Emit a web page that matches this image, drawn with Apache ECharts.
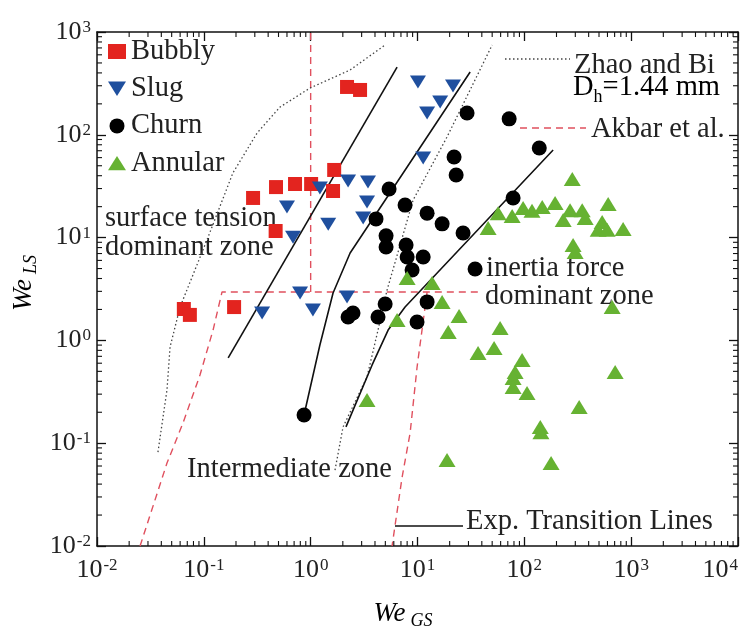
<!DOCTYPE html>
<html>
<head>
<meta charset="utf-8">
<script src="https://cdn.jsdelivr.net/npm/echarts@6/dist/echarts.min.js"></script>
<style>
  html, body { margin: 0; padding: 0; background: #fff; }
  #chart { width: 753px; height: 632px; }
</style>
</head>
<body>
<div id="chart"></div>
<script>
// Flow-pattern map: liquid vs. gas superficial Weber numbers (log–log)

// Bubbly flow
const bubblyWeGS = [0.065, 0.074, 0.192, 0.289, 0.474, 0.714, 1.01, 1.66, 1.62, 0.47, 2.19, 2.9];
const bubblyWeLS = [2.02, 1.77, 2.11, 24.3, 31, 33.2, 33.2, 45.5, 28.4, 11.6, 292, 273];

// Slug flow
const slugWeGS = [0.60, 0.684, 1.22, 1.46, 2.24, 3.44, 3.37, 3.1, 0.796, 1.05, 2.19, 0.351, 10.1, 21.5, 16.3, 12.3, 11.3];
const slugWeLS = [19.9, 10.1, 30.3, 13.5, 35.6, 34.8, 22.2, 15.5, 2.89, 1.98, 2.64, 1.85, 327, 298, 208, 163, 59.4];

// Churn flow
const churnWeGS = [5.42, 7.65, 4.09, 12.3, 17.0, 26.7, 5.08, 5.08, 7.82, 8.0, 11.3, 8.9, 4.98, 12.3, 2.49, 2.24, 4.27, 9.9, 29.1, 72.1, 138, 22.0, 23.0, 78.5, 34.6, 0.867];
const churnWeLS = [29.7, 20.7, 15.2, 17.3, 13.6, 11.1, 10.4, 8.1, 8.47, 6.47, 6.47, 4.84, 2.26, 2.37, 1.85, 1.69, 1.69, 1.51, 163, 143, 74.5, 60.8, 40.6, 24.3, 4.95, 0.188];

// Annular flow
const annularWeGS = [281, 194, 609, 147, 118, 97.4, 76.9, 56.9, 45.8, 268, 348, 231, 371, 535, 491, 596, 841, 286, 299, 8.0, 13.7, 17.0, 24.5, 19.4, 59.3, 36.9, 52.1, 95.3, 82, 78.5, 78.5, 106, 141, 143, 326, 178, 18.9, 3.37, 6.44, 664, 708];
const annularWeLS = [37.2, 21.7, 21.2, 19.9, 18.2, 19.4, 16.2, 17.3, 12.4, 18.5, 18.5, 14.8, 15.5, 14.2, 11.9, 11.9, 12.1, 8.47, 7.24, 4.05, 3.61, 2.37, 1.73, 1.21, 1.32, 0.753, 0.843, 0.644, 0.493, 0.431, 0.352, 0.308, 0.144, 0.128, 0.225, 0.064, 0.0687, 0.263, 1.58, 2.11, 0.493];

// Experimental transition lines
const exp1WeGS = [0.169, 6.44];
const exp1WeLS = [0.675, 456];
const exp2WeGS = [0.867, 1.22, 1.62, 2.34, 31.1];
const exp2WeLS = [0.188, 0.902, 2.89, 7.08, 408];
const exp3WeGS = [2.14, 3.76, 5.31, 7.65, 186];
const exp3WeLS = [0.144, 0.577, 1.26, 2.11, 71.1];

// Zhao and Bi (Dh = 1.44 mm) transitions
const zhaoLeftWeGS = [0.0372, 0.0452, 0.0483, 0.0599, 0.107, 0.187, 0.315, 0.516, 0.986, 2.34, 4.98];
const zhaoLeftWeLS = [0.082, 0.33, 0.863, 2.11, 9.48, 42.5, 104, 186, 285, 427, 748];
const zhaoRightWeGS = [1.69, 2.01, 3.37, 4.27, 5.19, 9.1, 18.9, 50.0];
const zhaoRightWeLS = [0.0548, 0.144, 0.441, 1.26, 3.09, 23.2, 95.3, 748];

// Akbar et al. zone boundaries
const akbarLeftWeGS = [0.0253, 0.0452, 0.0638, 0.092, 0.122, 0.148, 40];
const akbarLeftWeLS = [0.01, 0.0641, 0.157, 0.46, 1.26, 2.96, 2.96];
const akbarVertWeGS = [1, 1];
const akbarVertWeLS = [2.96, 1000];
const akbarRightWeGS = [12.3, 9.91, 8.53, 7.18, 5.78];
const akbarRightWeLS = [2.96, 0.551, 0.126, 0.0469, 0.01];

// Axis ranges (decades)
const xDecades = [-2, -1, 0, 1, 2, 3, 4];
const yDecades = [-2, -1, 0, 1, 2, 3];

const SERIF = "'Liberation Serif', 'Times New Roman', serif";
const TXT = '28.5px ' + SERIF;
const zip = (xs, ys) => xs.map((x, i) => [x, ys[i]]);

// Minor tick positions (2..9 x 10^k)
const minorTicks = [];
for (let k = xDecades[0]; k < xDecades[xDecades.length - 1]; k++) {
  for (let m = 2; m <= 9; m++) minorTicks.push([m * Math.pow(10, k), 1, 0]);
}
for (let k = yDecades[0]; k < yDecades[yDecades.length - 1]; k++) {
  for (let m = 2; m <= 9; m++) minorTicks.push([1, m * Math.pow(10, k), 1]);
}

const powLabel = v => '{b|10}{s|' + Math.round(Math.log10(v)) + '}';
const labelRich = {
  b: { fontSize: 26, fontFamily: SERIF, color: '#222' },
  s: { fontSize: 17, fontFamily: SERIF, color: '#222', verticalAlign: 'top', padding: [0, 0, 0, 1] }
};

const frameLine = { show: true, lineStyle: { color: '#111', width: 1.5 } };
const majorTick = { show: true, inside: true, length: 9, lineStyle: { color: '#111', width: 1.3 } };

const xBase = { type: 'log', logBase: 10, min: 0.01, max: 10000, splitLine: { show: false }, axisLine: frameLine, axisTick: majorTick };
const yBase = { type: 'log', logBase: 10, min: 0.01, max: 1000, splitLine: { show: false }, axisLine: frameLine, axisTick: majorTick };

function lineSeries(name, xs, ys, style) {
  return {
    name, type: 'line', data: zip(xs, ys), symbol: 'none', z: 2,
    lineStyle: style, silent: true, animation: false
  };
}
const expStyle = { color: '#111', width: 1.6, type: 'solid' };
const zhaoStyle = { color: '#444', width: 1.3, type: [1.5, 2.5] };
const akbarStyle = { color: '#e0505e', width: 1.4, type: [7, 5] };

const chart = echarts.init(document.getElementById('chart'), null, { renderer: 'canvas' });

chart.setOption({
  animation: false,
  backgroundColor: '#fff',
  grid: { left: 97, right: 15, top: 32, bottom: 86, containLabel: false },
  xAxis: [
    Object.assign({}, xBase, {
      position: 'bottom',
      axisLabel: { formatter: powLabel, rich: labelRich, margin: 11, alignMaxLabel: 'right' }
    }),
    Object.assign({}, xBase, { position: 'top', axisLabel: { show: false } })
  ],
  yAxis: [
    Object.assign({}, yBase, {
      position: 'left',
      axisLabel: { formatter: powLabel, rich: labelRich, margin: 6 }
    }),
    Object.assign({}, yBase, { position: 'right', axisLabel: { show: false } })
  ],
  legend: {
    data: ['Bubbly', 'Slug', 'Churn', 'Annular'],
    orient: 'vertical', left: 103, top: 32,
    itemWidth: 18, itemHeight: 15, itemGap: 8.2,
    textStyle: { fontSize: 28.5, fontFamily: SERIF, color: '#222' }
  },
  series: [
    lineSeries('Akbar left', akbarLeftWeGS, akbarLeftWeLS, akbarStyle),
    lineSeries('Akbar vertical', akbarVertWeGS, akbarVertWeLS, akbarStyle),
    lineSeries('Akbar right', akbarRightWeGS, akbarRightWeLS, akbarStyle),
    lineSeries('Zhao left', zhaoLeftWeGS, zhaoLeftWeLS, zhaoStyle),
    lineSeries('Zhao right', zhaoRightWeGS, zhaoRightWeLS, zhaoStyle),
    lineSeries('Exp 1', exp1WeGS, exp1WeLS, expStyle),
    lineSeries('Exp 2', exp2WeGS, exp2WeLS, expStyle),
    lineSeries('Exp 3', exp3WeGS, exp3WeLS, expStyle),
    {
      name: 'Bubbly', type: 'scatter', z: 3, symbol: 'rect', symbolSize: 14,
      itemStyle: { color: '#e3241f', opacity: 1 }, data: zip(bubblyWeGS, bubblyWeLS)
    },
    {
      name: 'Slug', type: 'scatter', z: 3, symbol: 'path://M0,0L20,0L10,16Z', symbolSize: [16, 13],
      itemStyle: { color: '#1f4f9e', opacity: 1 }, data: zip(slugWeGS, slugWeLS)
    },
    {
      name: 'Churn', type: 'scatter', z: 3, symbol: 'circle', symbolSize: 15,
      itemStyle: { color: '#000', opacity: 1 }, data: zip(churnWeGS, churnWeLS)
    },
    {
      name: 'Annular', type: 'scatter', z: 3, symbol: 'path://M10,0L20,16L0,16Z', symbolSize: [17, 14],
      itemStyle: { color: '#66b232', opacity: 1 }, data: zip(annularWeGS, annularWeLS)
    },
    {
      name: 'minor ticks', type: 'custom', silent: true, z: 4, clip: false,
      data: minorTicks,
      renderItem(params, api) {
        const cs = params.coordSys;
        const L = 5;
        const st = { stroke: '#111', lineWidth: 1.1 };
        if (api.value(2) === 0) {
          const px = api.coord([api.value(0), 1])[0];
          const yb = cs.y + cs.height, yt = cs.y;
          return { type: 'group', children: [
            { type: 'line', shape: { x1: px, y1: yb, x2: px, y2: yb - L }, style: st },
            { type: 'line', shape: { x1: px, y1: yt, x2: px, y2: yt + L }, style: st }
          ] };
        }
        const py = api.coord([1, api.value(1)])[1];
        const xl = cs.x, xr = cs.x + cs.width;
        return { type: 'group', children: [
          { type: 'line', shape: { x1: xl, y1: py, x2: xl + L, y2: py }, style: st },
          { type: 'line', shape: { x1: xr, y1: py, x2: xr - L, y2: py }, style: st }
        ] };
      }
    }
  ],
  graphic: [
    // zone labels
    { type: 'text', left: 105, top: 204, style: { text: 'surface tension', font: TXT, fill: '#222' } },
    { type: 'text', left: 105, top: 233, style: { text: 'dominant zone', font: TXT, fill: '#222' } },
    { type: 'text', left: 486, top: 254, style: { text: 'inertia force', font: TXT, fill: '#222' } },
    { type: 'text', left: 485, top: 282, style: { text: 'dominant zone', font: TXT, fill: '#222' } },
    { type: 'text', left: 187, top: 455, style: { text: 'Intermediate zone', font: TXT, fill: '#222' } },
    // key for the model lines
    { type: 'line', shape: { x1: 505, y1: 59, x2: 570, y2: 59 }, style: { stroke: '#444', lineWidth: 1.3, lineDash: [1.5, 2.5] } },
    { type: 'text', left: 574, top: 51, style: { text: 'Zhao and Bi', font: TXT, fill: '#222' } },
    { type: 'text', left: 573, top: 73, style: {
      text: '{n|D}{sub|h}{n|=1.44 mm}',
      rich: {
        n: { fontSize: 28.5, fontFamily: SERIF, color: '#222' },
        sub: { fontSize: 18, fontFamily: SERIF, color: '#222', verticalAlign: 'bottom', padding: [0, 0, -4, 0] }
      }
    } },
    { type: 'line', shape: { x1: 520, y1: 128, x2: 586, y2: 128 }, style: { stroke: '#e0505e', lineWidth: 1.4, lineDash: [7, 5] } },
    { type: 'text', left: 591, top: 115, style: { text: 'Akbar et al.', font: TXT, fill: '#222' } },
    { type: 'line', shape: { x1: 395, y1: 526, x2: 463, y2: 526 }, style: { stroke: '#111', lineWidth: 1.6 } },
    { type: 'text', left: 466, top: 507, style: { text: 'Exp. Transition Lines', font: TXT, fill: '#222' } },
    // axis names
    { type: 'text', x: 403, y: 614, style: {
      text: '{w|We}{g|GS}', align: 'center', verticalAlign: 'middle',
      rich: {
        w: { fontSize: 27, fontFamily: SERIF, fontStyle: 'italic', color: '#222' },
        g: { fontSize: 18, fontFamily: SERIF, fontStyle: 'italic', color: '#222', verticalAlign: 'bottom', padding: [0, 0, -3, 5] }
      }
    } },
    { type: 'text', x: 24, y: 283, rotation: Math.PI / 2, style: {
      text: '{w|We}{g|LS}', align: 'center', verticalAlign: 'middle',
      rich: {
        w: { fontSize: 27, fontFamily: SERIF, fontStyle: 'italic', color: '#222' },
        g: { fontSize: 18, fontFamily: SERIF, fontStyle: 'italic', color: '#222', verticalAlign: 'bottom', padding: [0, 0, -3, 5] }
      }
    } }
  ]
});
</script>
</body>
</html>
